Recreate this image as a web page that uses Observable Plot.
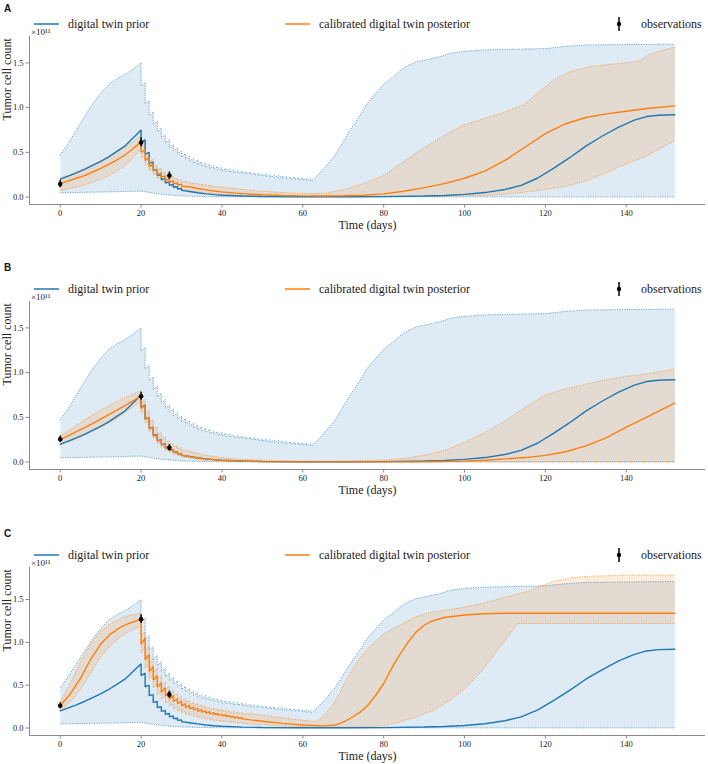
<!DOCTYPE html>
<html><head><meta charset="utf-8">
<script src="https://cdn.jsdelivr.net/npm/d3@7"></script>
<script src="https://cdn.jsdelivr.net/npm/@observablehq/plot@0.6"></script>
<style>
html,body{margin:0;padding:0;background:#fff;overflow:hidden;width:708px;height:764px;}
#root{position:relative;width:708px;height:764px;}
.panel{position:absolute;left:0;width:708px;height:234px;}
.panel svg{position:absolute;left:0;top:0;}
.lbl{position:absolute;left:4px;font-family:"Liberation Sans",Arial,sans-serif;font-weight:bold;font-size:10px;line-height:10px;color:#111;}
.leg{position:absolute;font-family:"Liberation Serif",serif;font-size:12px;line-height:12px;color:#222;white-space:nowrap;}
</style></head><body><div id="root"></div><script>
// ---------------- shared ----------------
const BLUE = "#1f77b4", ORANGE = "#ff7f0e";
const doseDays = [20,21,22,23,24,25,26,27,28,29,30,31,32,33,34,35,36,37,38,39,40,41,42,43,44,45,46,47,48,49,50,51,52,53,54,55,56,57,58,59,60,61,62];
const xTicks = [0,20,40,60,80,100,120,140];
const yTicks = [0,0.5,1.0,1.5];
const panelLabels = ["A","B","C"];
const legendLabels = ["digital twin prior","calibrated digital twin posterior","observations"];

// ---------------- prior (same in all panels), units of 1e11 ----------------
const priorUpperPreDays = [0,2,4,6,8,10,12,14,16,18];
const priorUpperPreVals = [0.47,0.60,0.75,0.90,1.04,1.16,1.26,1.32,1.37,1.43];
const priorUpperPeaks = [1.50,1.28,1.08,0.95,0.85,0.77,0.70,0.64,0.59,0.55,0.515,0.485,0.46,0.435,0.415,0.395,0.38,0.365,0.35,0.34,0.33,0.32,0.31,0.305,0.298,0.29,0.284,0.278,0.272,0.266,0.26,0.255,0.25,0.245,0.24,0.235,0.23,0.226,0.222,0.218,0.214,0.21,0.206];
const priorUpperTroughs = [1.24,1.04,0.91,0.81,0.73,0.66,0.60,0.555,0.515,0.48,0.45,0.425,0.40,0.38,0.36,0.345,0.33,0.32,0.31,0.30,0.29,0.285,0.28,0.27,0.265,0.26,0.255,0.25,0.244,0.238,0.232,0.227,0.222,0.217,0.212,0.207,0.203,0.199,0.195,0.191,0.187,0.183,0.18];
const priorUpperPostDays = [62.5,64,66,68,70,72,74,76,78,80,82,84,86,88,90,92,94,96,98,100,105,110,115,120,125,130,140,152];
const priorUpperPostVals = [0.19,0.26,0.36,0.47,0.62,0.77,0.90,1.05,1.16,1.26,1.33,1.41,1.47,1.51,1.53,1.55,1.57,1.60,1.62,1.63,1.645,1.65,1.655,1.66,1.685,1.70,1.705,1.71];

const priorLowerDays = [0,5,10,15,18,20,22,24,26,28,30,33,36,40,45,50,152];
const priorLowerVals = [0.048,0.052,0.056,0.061,0.065,0.066,0.052,0.038,0.027,0.019,0.013,0.008,0.005,0.003,0.002,0.002,0.002];

const priorMedPreDays = [0,2,4,6,8,10,12,14,16,18];
const priorMedPreVals = [0.20,0.235,0.27,0.31,0.355,0.40,0.45,0.51,0.57,0.66];
const priorMedPeaks = [0.75,0.64,0.50,0.39,0.31,0.25,0.205,0.17,0.14,0.115,0.095];
const priorMedTroughs = [0.61,0.48,0.38,0.30,0.24,0.195,0.16,0.13,0.11,0.09,0.075];
const priorMedPostDays = [32,34,36,38,40,45,50,60,70,80,90,95,100,105,110,114,118,122,126,130,134,138,142,145,148,152];
const priorMedPostVals = [0.062,0.048,0.036,0.027,0.02,0.011,0.006,0.003,0.003,0.005,0.012,0.018,0.03,0.05,0.085,0.13,0.21,0.32,0.44,0.57,0.68,0.78,0.86,0.90,0.915,0.92];

// ---------------- panel A posterior ----------------
const preDaysAB = [0,2,4,6,8,10,12,14,16,18];
const medAPre = [0.15,0.18,0.21,0.24,0.28,0.32,0.365,0.415,0.47,0.54];
const medAPeaks = [0.62,0.53,0.44,0.37,0.31,0.27,0.235,0.205,0.18,0.16,0.145];
const medATroughs = [0.50,0.41,0.34,0.29,0.25,0.22,0.19,0.17,0.15,0.135,0.12];
const medAPostDays = [32,34,36,38,40,45,50,55,60,65,70,75,80,85,90,95,100,105,110,115,120,125,130,135,140,145,152];
const medAPostVals = [0.115,0.095,0.08,0.068,0.058,0.038,0.025,0.017,0.013,0.012,0.014,0.02,0.035,0.065,0.105,0.15,0.21,0.29,0.41,0.56,0.71,0.82,0.89,0.93,0.96,0.99,1.02];

const upAPre = [0.21,0.245,0.28,0.32,0.36,0.40,0.45,0.50,0.56,0.62];
const upAPeaks = [0.69,0.60,0.50,0.42,0.36,0.32,0.28,0.25,0.23,0.21,0.195,0.18,0.17,0.16,0.152,0.145,0.138,0.132,0.126];
const upATroughs = [0.57,0.47,0.40,0.34,0.30,0.27,0.24,0.22,0.20,0.185,0.17,0.16,0.15,0.145,0.138,0.132,0.126,0.12,0.115];
const upAPostDays = [40,45,50,55,60,65,70,75,80,85,90,95,100,105,110,115,118,122,126,130,135,140,143,146,152];
const upAPostVals = [0.112,0.085,0.065,0.05,0.04,0.04,0.08,0.15,0.24,0.40,0.55,0.69,0.81,0.88,0.95,1.04,1.16,1.31,1.40,1.45,1.48,1.50,1.52,1.60,1.68];

const loAPre = [0.07,0.09,0.11,0.135,0.165,0.20,0.24,0.29,0.35,0.44];
const loAPeaks = [0.54,0.46,0.38,0.31,0.26,0.22,0.185,0.155,0.135,0.115,0.10];
const loATroughs = [0.44,0.36,0.30,0.25,0.21,0.18,0.15,0.13,0.11,0.095,0.082];
const loAPostDays = [32,34,36,40,45,50,60,80,90,100,105,110,115,120,125,130,135,140,145,152];
const loAPostVals = [0.07,0.055,0.045,0.03,0.018,0.01,0.005,0.005,0.008,0.013,0.02,0.03,0.055,0.085,0.12,0.18,0.27,0.37,0.46,0.63];

const obsDays = [0,20,27];
const obsA = [0.145,0.61,0.24];
const errA = [0.04,0.05,0.04];

// ---------------- panel B posterior ----------------
const medBPre = [0.25,0.295,0.34,0.385,0.43,0.48,0.53,0.58,0.63,0.685];
const medBPeaks = [0.74,0.64,0.50,0.39,0.305,0.245,0.20,0.165,0.14,0.115,0.095];
const medBTroughs = [0.60,0.48,0.37,0.29,0.235,0.19,0.155,0.13,0.11,0.09,0.078];
const medBPostDays = [32,34,36,40,45,50,60,80,90,100,105,110,115,120,125,130,135,140,145,148,152];
const medBPostVals = [0.06,0.045,0.035,0.02,0.01,0.005,0.002,0.002,0.004,0.01,0.02,0.035,0.05,0.075,0.115,0.18,0.27,0.39,0.50,0.57,0.66];

const upBPre = [0.29,0.35,0.41,0.47,0.525,0.58,0.63,0.675,0.72,0.76];
const upBPeaks = [0.80,0.70,0.58,0.47,0.39,0.33,0.28,0.24,0.21,0.18,0.16];
const upBTroughs = [0.66,0.55,0.45,0.37,0.31,0.265,0.225,0.195,0.17,0.15,0.135];
const upBPostDays = [32,34,36,40,45,50,60,70,80,85,90,95,100,105,110,115,120,125,130,135,140,145,152];
const upBPostVals = [0.12,0.095,0.075,0.05,0.03,0.02,0.01,0.01,0.02,0.04,0.075,0.13,0.22,0.33,0.46,0.61,0.75,0.82,0.87,0.92,0.96,0.985,1.04];

const loBPre = [0.19,0.225,0.26,0.30,0.345,0.39,0.44,0.49,0.555,0.615];
const loBPeaks = [0.68,0.58,0.46,0.36,0.28,0.22,0.175,0.14,0.115,0.09,0.075];
const loBTroughs = [0.55,0.44,0.34,0.27,0.21,0.165,0.13,0.105,0.085,0.07,0.058];
const loBPostDays = [32,34,36,40,50,60,152];
const loBPostVals = [0.045,0.03,0.02,0.01,0.003,0.002,0.002];

const obsB = [0.255,0.735,0.16];
const errB = [0.035,0.045,0.035];

// ---------------- panel C posterior ----------------
const preDaysC = [0,2.5,5,7.5,10,12.5,15,17.5];
const medCPre = [0.26,0.40,0.58,0.80,0.98,1.10,1.18,1.23];
const medCPeaks = [1.27,1.05,0.86,0.72,0.61,0.53,0.47,0.42,0.375,0.34,0.31,0.285,0.265,0.245,0.23,0.215,0.20,0.19,0.18,0.17,0.162,0.152,0.143,0.135,0.127,0.12];
const medCTroughs = [0.98,0.80,0.66,0.56,0.48,0.42,0.375,0.34,0.31,0.285,0.26,0.24,0.225,0.21,0.195,0.185,0.175,0.165,0.158,0.15,0.143,0.135,0.127,0.12,0.113,0.107];
const medCPostDays = [47,50,55,60,65,68,70,72,74,76,78,80,82,84,86,88,90,92,95,100,105,110,152];
const medCPostVals = [0.095,0.08,0.055,0.035,0.025,0.035,0.07,0.12,0.18,0.26,0.38,0.52,0.70,0.86,1.00,1.12,1.20,1.25,1.29,1.32,1.335,1.34,1.34];

const upCPre = [0.30,0.52,0.77,0.98,1.13,1.22,1.28,1.32];
const upCPeaks = [1.34,1.12,0.95,0.81,0.70,0.61,0.54,0.49,0.44,0.40,0.37,0.345,0.32,0.30,0.285,0.27,0.255,0.245,0.235,0.225,0.215,0.207,0.20,0.193,0.187,0.181];
const upCTroughs = [1.08,0.90,0.76,0.65,0.57,0.50,0.45,0.41,0.375,0.345,0.32,0.30,0.28,0.265,0.25,0.24,0.228,0.218,0.21,0.20,0.192,0.185,0.179,0.173,0.168,0.163];
const upCPostDays = [47,50,55,60,62,63.5,65,67,69,71,73,75,77,80,84,88,92,96,100,104,108,112,116,119,122,126,130,140,152];
const upCPostVals = [0.17,0.15,0.12,0.09,0.08,0.075,0.14,0.24,0.40,0.58,0.74,0.87,0.97,1.10,1.20,1.30,1.355,1.38,1.41,1.45,1.50,1.55,1.60,1.66,1.71,1.75,1.77,1.785,1.785];

const loCPre = [0.21,0.31,0.45,0.64,0.83,0.97,1.07,1.14];
const loCPeaks = [1.19,0.95,0.76,0.62,0.51,0.43,0.37,0.32,0.28,0.245,0.22,0.195,0.175,0.16,0.145,0.133,0.122,0.112,0.104,0.096,0.089,0.083,0.077,0.072,0.067,0.063];
const loCTroughs = [0.88,0.70,0.57,0.47,0.39,0.335,0.29,0.255,0.225,0.20,0.18,0.162,0.147,0.134,0.122,0.112,0.103,0.095,0.088,0.082,0.076,0.071,0.066,0.062,0.058,0.054];
const loCPostDays = [47,50,55,60,65,70,75,80,84,88,92,96,100,104,108,111,113,152];
const loCPostVals = [0.047,0.038,0.025,0.015,0.01,0.01,0.012,0.03,0.07,0.13,0.20,0.31,0.46,0.65,0.90,1.08,1.22,1.22];

const obsC = [0.26,1.27,0.39];
const errC = [0.035,0.05,0.04];

// ---------------- assembly ----------------
function build(preDays, preVals, peaks, troughs, postDays, postVals) {
  const pts = [];
  preDays.forEach((t, i) => pts.push({t, v: preVals[i]}));
  peaks.forEach((p, i) => { pts.push({t: doseDays[i], v: p}); pts.push({t: doseDays[i], v: troughs[i]}); });
  postDays.forEach((t, i) => pts.push({t, v: postVals[i]}));
  return pts;
}
const priorUpper = build(priorUpperPreDays, priorUpperPreVals, priorUpperPeaks, priorUpperTroughs, priorUpperPostDays, priorUpperPostVals);
const priorLower = build(priorLowerDays, priorLowerVals, [], [], [], []);
const priorMed = build(priorMedPreDays, priorMedPreVals, priorMedPeaks, priorMedTroughs, priorMedPostDays, priorMedPostVals);

const panels = [
  {top: 0, labelY: 8.7, label: panelLabels[0],
   med: build(preDaysAB, medAPre, medAPeaks, medATroughs, medAPostDays, medAPostVals),
   up: build(preDaysAB, upAPre, upAPeaks, upATroughs, upAPostDays, upAPostVals),
   lo: build(preDaysAB, loAPre, loAPeaks, loATroughs, loAPostDays, loAPostVals),
   obs: obsDays.map((t, i) => ({t, v: obsA[i], e: errA[i]}))},
  {top: 265, labelY: 268, label: panelLabels[1],
   med: build(preDaysAB, medBPre, medBPeaks, medBTroughs, medBPostDays, medBPostVals),
   up: build(preDaysAB, upBPre, upBPeaks, upBTroughs, upBPostDays, upBPostVals),
   lo: build(preDaysAB, loBPre, loBPeaks, loBTroughs, loBPostDays, loBPostVals),
   obs: obsDays.map((t, i) => ({t, v: obsB[i], e: errB[i]}))},
  {top: 531, labelY: 533.5, label: panelLabels[2],
   med: build(preDaysC, medCPre, medCPeaks, medCTroughs, medCPostDays, medCPostVals),
   up: build(preDaysC, upCPre, upCPeaks, upCTroughs, upCPostDays, upCPostVals),
   lo: build(preDaysC, loCPre, loCPeaks, loCTroughs, loCPostDays, loCPostVals),
   obs: obsDays.map((t, i) => ({t, v: obsC[i], e: errC[i]}))}
];

const allT = [...priorUpper, ...priorLower].map(d => d.t);
const tMin = d3.min(allT), tMax = d3.max(allT), tPad = 0.05 * (tMax - tMin);
const xDomain = [tMin - tPad, tMax + tPad];

const root = document.getElementById("root");
const edge = {x: "t", y: "v", strokeWidth: 0.9, strokeDasharray: "1.2,1.2", strokeLinecap: "butt", strokeOpacity: 0.7};
const svgNS = "http://www.w3.org/2000/svg";

panels.forEach(p => {
  const vals = [...priorUpper, ...priorLower, ...priorMed, ...p.up, ...p.lo, ...p.med].map(d => d.v)
    .concat(p.obs.map(d => d.v + d.e));
  const vMin = d3.min(vals), vMax = d3.max(vals), vPad = 0.05 * (vMax - vMin);
  const yDomain = [vMin - vPad, vMax + vPad];
  const priorPoly = priorUpper.concat(priorLower.slice().reverse());
  const postPoly = p.up.concat(p.lo.slice().reverse());

  const chart = Plot.plot({
    width: 708, height: 234,
    marginTop: 36, marginBottom: 30, marginLeft: 29, marginRight: 3,
    style: {fontFamily: "'Liberation Serif', serif", fontSize: "9px", background: "transparent", overflow: "visible", color: "#222"},
    x: {domain: xDomain, label: null},
    y: {domain: yDomain, label: null},
    marks: [
      Plot.line(priorPoly, {x: "t", y: "v", fill: BLUE, fillOpacity: 0.15, stroke: "none"}),
      Plot.line(postPoly, {x: "t", y: "v", fill: ORANGE, fillOpacity: 0.15, stroke: "none"}),
      Plot.line(priorUpper, {...edge, stroke: BLUE}),
      Plot.line(priorLower, {...edge, stroke: BLUE}),
      Plot.line(p.up, {...edge, stroke: ORANGE}),
      Plot.line(p.lo, {...edge, stroke: ORANGE}),
      Plot.line(priorMed, {x: "t", y: "v", stroke: BLUE, strokeWidth: 1.4, strokeLinejoin: "miter"}),
      Plot.line(p.med, {x: "t", y: "v", stroke: ORANGE, strokeWidth: 1.4, strokeLinejoin: "miter"}),
      Plot.ruleX(p.obs, {x: "t", y1: d => d.v - d.e, y2: d => d.v + d.e, stroke: "black", strokeWidth: 1.5}),
      Plot.dot(p.obs, {x: "t", y: "v", r: 2.3, fill: "black", stroke: "none"}),
      Plot.ruleY([yDomain[0]], {stroke: "#8a8a8a", strokeWidth: 1}),
      Plot.ruleX([xDomain[0]], {stroke: "#8a8a8a", strokeWidth: 1}),
      Plot.axisX({ticks: xTicks, tickFormat: d => String(d), tickSize: 3.5, tickPadding: 1.5, stroke: "#8a8a8a", fill: "#222", fontSize: 8.5, label: null}),
      Plot.axisY({ticks: yTicks, tickFormat: d => d.toFixed(1), tickSize: 3.5, tickPadding: 2.5, stroke: "#8a8a8a", fill: "#222", fontSize: 8.5, label: null}),
      Plot.text(["Time (days)"], {frameAnchor: "bottom", dy: 21, fontSize: 12, fill: "#222", lineAnchor: "middle"}),
      Plot.text(["Tumor cell count"], {frameAnchor: "left", dx: -22.5, rotate: -90, fontSize: 12, fill: "#222", lineAnchor: "middle"}),
      Plot.text(["×10¹¹"], {frameAnchor: "top-left", dx: 1.5, dy: -4, textAnchor: "start", lineAnchor: "middle", fontSize: 9, fill: "#222"})
    ]
  });

  const div = document.createElement("div");
  div.className = "panel";
  div.style.top = p.top + "px";
  div.appendChild(chart);

  // legend (swatches in a small svg, labels as html text)
  const ly = 24;
  const lg = document.createElementNS(svgNS, "svg");
  lg.setAttribute("width", 708); lg.setAttribute("height", 40);
  lg.style.position = "absolute"; lg.style.left = "0px"; lg.style.top = "0px";
  const mk = (tag, attrs) => { const e = document.createElementNS(svgNS, tag); for (const k in attrs) e.setAttribute(k, attrs[k]); lg.appendChild(e); };
  mk("line", {x1: 34, x2: 59, y1: ly, y2: ly, stroke: BLUE, "stroke-width": 1.5});
  mk("line", {x1: 285, x2: 310, y1: ly, y2: ly, stroke: ORANGE, "stroke-width": 1.5});
  mk("line", {x1: 619, x2: 619, y1: ly - 7, y2: ly + 7, stroke: "#000", "stroke-width": 1.5});
  mk("circle", {cx: 619, cy: ly, r: 2.2, fill: "#000"});
  div.appendChild(lg);
  const addText = (x, txt) => {
    const t = document.createElement("div");
    t.className = "leg";
    t.style.left = x + "px"; t.style.top = (ly - 6) + "px";
    t.textContent = txt;
    div.appendChild(t);
  };
  addText(68, legendLabels[0]);
  addText(319, legendLabels[1]);
  addText(641, legendLabels[2]);

  root.appendChild(div);

  const lab = document.createElement("div");
  lab.className = "lbl";
  lab.style.top = (p.labelY - 5) + "px";
  lab.textContent = p.label;
  root.appendChild(lab);
});
</script></body></html>
